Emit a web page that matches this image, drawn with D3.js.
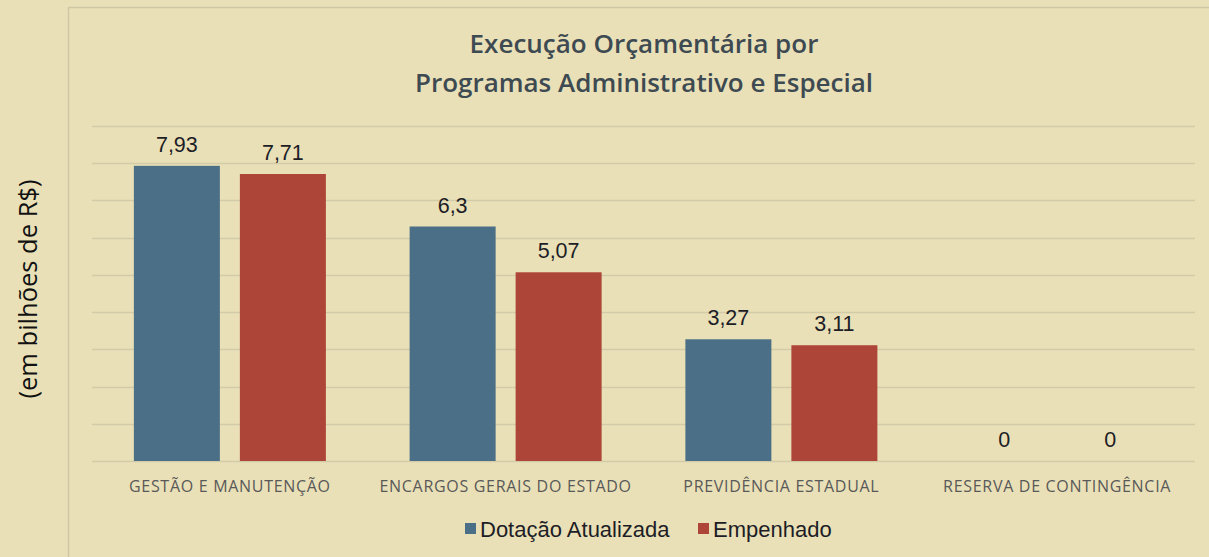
<!DOCTYPE html>
<html>
<head>
<meta charset="utf-8">
<script src="https://cdn.jsdelivr.net/npm/d3@7"></script>
<style>
  body { margin: 0; background: #e9e0b7; }
  svg { display: block; }
</style>
</head>
<body>
<div class="content"></div>
<script>
//--> Data
const categories = [
  "GESTÃO E MANUTENÇÃO",
  "ENCARGOS GERAIS DO ESTADO",
  "PREVIDÊNCIA ESTADUAL",
  "RESERVA DE CONTINGÊNCIA",
];
const seriesNames = ["Dotação Atualizada", "Empenhado"];
const dotacao = [7.93, 6.3, 3.27, 0];
const empenhado = [7.71, 5.07, 3.11, 0];
const valueLabels = [
  ["7,93", "6,3", "3,27", "0"],
  ["7,71", "5,07", "3,11", "0"],
];
const colors = ["#4a6f87", "#ad4538"];

//--> Set up main elements
const width = 1209;
const height = 557;
const plot = { left: 92, right: 1195, top: 126, bottom: 461 };

const svg = d3
  .select(".content")
  .append("svg")
  .attr("width", width)
  .attr("height", height);

svg.append("rect").attr("width", width).attr("height", height).attr("fill", "#e9e0b7");

//--> Outer frame
svg
  .append("path")
  .attr("d", `M68.5,${height} V7.5 H${width}`)
  .attr("fill", "none")
  .attr("stroke", "#d0c8a4")
  .attr("stroke-width", 1.5);

//--> Scales
const y = d3.scaleLinear().domain([0, 9]).range([plot.bottom, plot.top]);

const x0 = d3.scaleBand().domain(categories).range([plot.left, plot.right]);

const x1 = d3
  .scaleBand()
  .domain(seriesNames)
  .range([0, x0.bandwidth()])
  .paddingInner(0.1887)
  .paddingOuter(0.395);

//--> Gridlines
svg
  .append("g")
  .selectAll("line")
  .data(y.ticks(9))
  .join("line")
  .attr("x1", plot.left)
  .attr("x2", plot.right)
  .attr("y1", d => Math.round(y(d)) + 0.5)
  .attr("y2", d => Math.round(y(d)) + 0.5)
  .attr("stroke", "#d3cba7")
  .attr("stroke-width", 1.5);

//--> Bars
const rows = categories.map((c, i) => ({
  category: c,
  values: [dotacao[i], empenhado[i]],
  labels: [valueLabels[0][i], valueLabels[1][i]],
}));

const groups = svg
  .append("g")
  .selectAll("g")
  .data(rows)
  .join("g")
  .attr("transform", d => `translate(${x0(d.category)},0)`);

groups
  .selectAll("rect")
  .data(d => d.values.map((v, i) => ({ key: seriesNames[i], v, i })))
  .join("rect")
  .attr("x", d => x1(d.key))
  .attr("width", x1.bandwidth())
  .attr("y", d => y(d.v))
  .attr("height", d => y(0) - y(d.v))
  .attr("fill", d => colors[d.i]);

groups
  .selectAll("text")
  .data(d => d.values.map((v, i) => ({ key: seriesNames[i], v, label: d.labels[i] })))
  .join("text")
  .attr("x", d => x1(d.key) + x1.bandwidth() / 2)
  .attr("y", d => y(d.v) - 14)
  .attr("text-anchor", "middle")
  .attr("font-family", "Liberation Sans, Arial, sans-serif")
  .attr("font-size", 21.5)
  .attr("fill", "#1d1d26")
  .text(d => d.label);

//--> Category labels
svg
  .append("g")
  .selectAll("text")
  .data(categories)
  .join("text")
  .attr("x", d => x0(d) + x0.bandwidth() / 2)
  .attr("y", 492)
  .attr("text-anchor", "middle")
  .attr("font-family", "Open Sans, sans-serif")
  .attr("font-size", 16)
  .attr("letter-spacing", 0.7)
  .attr("fill", "#595959")
  .text(d => d);

//--> Title
const title = svg
  .append("text")
  .attr("text-anchor", "middle")
  .attr("font-family", "Open Sans, sans-serif")
  .attr("font-weight", 600)
  .attr("font-size", 26)
  .attr("fill", "#3e4a52");
title.append("tspan").attr("x", 644).attr("y", 53).text("Execução Orçamentária por");
title.append("tspan").attr("x", 644).attr("y", 92).text("Programas Administrativo e Especial");

//--> Y axis label
svg
  .append("text")
  .attr("transform", "translate(37,289) rotate(-90)")
  .attr("text-anchor", "middle")
  .attr("font-family", "Open Sans, sans-serif")
  .attr("font-size", 25.5)
  .attr("fill", "#111")
  .text("(em bilhões de R$)");

//--> Legend
const legendItems = [
  { name: seriesNames[0], color: colors[0], x: 465 },
  { name: seriesNames[1], color: colors[1], x: 698 },
];

const legend = svg.append("g").attr("id", "legend");

legend
  .selectAll("rect")
  .data(legendItems)
  .join("rect")
  .attr("x", d => d.x)
  .attr("y", 523)
  .attr("width", 11)
  .attr("height", 11)
  .attr("fill", d => d.color);

legend
  .selectAll("text")
  .data(legendItems)
  .join("text")
  .attr("x", d => d.x + 15)
  .attr("y", 537)
  .attr("font-family", "Liberation Sans, Arial, sans-serif")
  .attr("font-size", 22)
  .attr("fill", "#1d1d26")
  .text(d => d.name);
</script>
</body>
</html>
